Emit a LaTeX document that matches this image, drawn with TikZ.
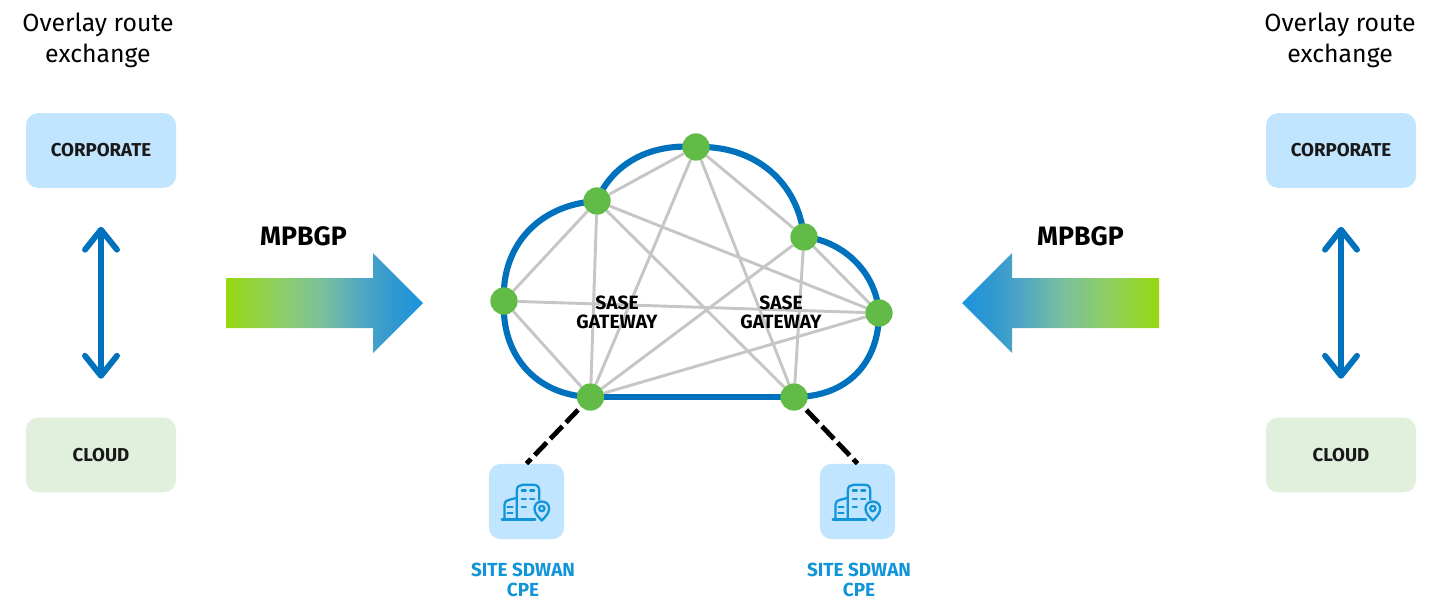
\documentclass[tikz,border=0pt]{standalone}
\usepackage{fontspec}
\setmainfont{Fira Sans}
\usetikzlibrary{arrows.meta,backgrounds}
\definecolor{cloudblue}{HTML}{0071BC}
\definecolor{nodegreen}{HTML}{62BB46}
\definecolor{meshgray}{HTML}{C6C6C6}
\definecolor{paleblue}{HTML}{C2E5FF}
\definecolor{palegreen}{HTML}{E0F0DC}
\definecolor{siteblue}{HTML}{1295D8}
\definecolor{gA}{HTML}{97D810}
\definecolor{gB}{HTML}{90D060}
\definecolor{gC}{HTML}{78BFA0}
\definecolor{gD}{HTML}{4FA5C5}
\definecolor{gE}{HTML}{3098D0}
\definecolor{gF}{HTML}{1B94DC}
\pgfdeclarehorizontalshading{mpright}{100bp}{color(0bp)=(gA);color(25bp)=(gA);color(37.5bp)=(gB);color(50bp)=(gC);color(60bp)=(gD);color(67.5bp)=(gE);color(75bp)=(gF);color(100bp)=(gF)}
\pgfdeclarehorizontalshading{mpleft}{100bp}{color(0bp)=(gF);color(25bp)=(gF);color(32.5bp)=(gE);color(40bp)=(gD);color(50bp)=(gC);color(62.5bp)=(gB);color(75bp)=(gA);color(100bp)=(gA)}
\tikzset{
  x=0.75pt,y=-0.75pt,
  gw/.style={circle,fill=nodegreen,minimum size=20.5pt,inner sep=0pt},
  mesh/.style={draw=meshgray,line width=2.2pt},
  rim/.style={draw=cloudblue,line width=4.6pt},
  tile/.style={rounded corners=9pt,minimum width=112.5pt,minimum height=56pt,inner sep=0pt,
     font=\fontsize{14}{16}\selectfont\bfseries,text=black!90},
  corp/.style={tile,fill=paleblue},
  cld/.style={tile,fill=palegreen},
  sitebox/.style={rounded corners=9pt,fill=paleblue,minimum size=56.5pt,inner sep=0pt},
  sitetxt/.style={align=center,inner sep=0pt,text=siteblue,font=\fontsize{14.2}{15}\selectfont\bfseries},
  headline/.style={align=center,inner sep=0pt,font=\fontsize{18.6}{23}\selectfont},
  bgp/.style={inner sep=0pt,font=\fontsize{20}{22}\selectfont\bfseries},
  sase/.style={align=center,inner sep=0pt,font=\fontsize{14.4}{14.5}\selectfont\bfseries},
  both/.style={draw=cloudblue,line width=4.4pt,
     {Straight Barb[length=15pt,width=24pt,line width=4.4pt,round]}-{Straight Barb[length=15pt,width=24pt,line width=4.4pt,round]},
     shorten <=29pt,shorten >=29pt},
  uplink/.style={draw=black,line width=3.6pt,dash pattern=on 13pt off 4pt,shorten <=3pt},
  siteicon/.pic={
    \begin{scope}[draw=siteblue,line width=1.7pt,line cap=round,line join=round]
      \draw (-24.7,18) -- (8.7,18);
      \draw (-9.7,18) -- (-9.7,-11) .. controls (-9.7,-15) and (-7,-16.7) .. (-4,-16.7)
            -- (7,-16.7) .. controls (10.5,-16.7) and (12.7,-15) .. (12.7,-11) -- (12.7,-1.7);
      \draw (-22,18) -- (-22,3) .. controls (-22,0) and (-20,-1) .. (-18,-1.5) -- (-9.7,-3.7);
      \foreach \yy in {-11,-2.7}{
        \draw (-4.7,\yy) -- (-0.7,\yy);
        \draw (3.7,\yy) -- (7.7,\yy);
      }
      \draw (-4.7,5.7) -- (-0.7,5.7);
      \draw (-19,5.7) -- (-14,5.7);
      \draw (-19,11.7) -- (-14,11.7);
      \draw[fill=paleblue] (15.3,19) .. controls (11,14.5) and (8,11.5) .. (8,7)
            .. controls (8,3) and (11,0) .. (15.3,0)
            .. controls (19.6,0) and (22.6,3) .. (22.6,7)
            .. controls (22.6,11.5) and (19.6,14.5) .. (15.3,19) -- cycle;
      \draw (15.3,7) circle[radius=2.7];
    \end{scope}
  }
}
\begin{document}
\begin{tikzpicture}
\useasboundingbox (0,0) rectangle (1438,611);

% side columns
\node[headline] (hl) at (98,40.5) {Overlay route\\exchange};
\node[headline] (hr) at (1340,40.5) {Overlay route\\exchange};
\node[corp] (corpl) at (101,150.5) {\raisebox{-0.7pt}{CORPORATE}};
\node[cld]  (cldl)  at (101,455)   {\raisebox{-0.7pt}{CLOUD}};
\node[corp] (corpr) at (1341,150.5) {\raisebox{-0.7pt}{CORPORATE}};
\node[cld]  (cldr)  at (1341,455)   {\raisebox{-0.7pt}{CLOUD}};
\draw[both] (corpl.south) -- (cldl.north);
\draw[both] (corpr.south) -- (cldr.north);

% MPBGP arrows
\node[bgp] (bgpl) at (303.5,236) {MPBGP};
\node[bgp] (bgpr) at (1080.5,236) {MPBGP};
\shade[shading=mpright]
  (226,278) -- (373,278) -- (373,253) -- (423,303) -- (373,353) -- (373,328) -- (226,328) -- cycle;
\shade[shading=mpleft]
  (1159,278) -- (1012,278) -- (1012,253) -- (962,303) -- (1012,353) -- (1012,328) -- (1159,328) -- cycle;

% gateways
\node[gw] (top) at (696,147) {};
\node[gw] (a)   at (597,201) {};
\node[gw] (b)   at (804,237) {};
\node[gw] (lft) at (504,301) {};
\node[gw] (rgt) at (879,313) {};
\node[gw] (bl)  at (590.5,397) {};
\node[gw] (br)  at (794,397) {};

\begin{scope}[on background layer]
  \foreach \p/\q in {top/a,top/bl,top/br,top/b,a/lft,a/bl,a/br,a/rgt,b/bl,b/br,b/rgt,lft/bl,lft/rgt,rgt/bl}
    \draw[mesh] (\p) -- (\q);
  \draw[rim] (lft.center) .. controls (501,250) and (535,205) .. (a.center);
  \draw[rim] (a.center) .. controls (610,168) and (645,143) .. (top.center);
  \draw[rim] (top.center) .. controls (755,145) and (798,182) .. (b.center);
  \draw[rim] (b.center) .. controls (840,240) and (876,270) .. (rgt.center);
  \draw[rim] (rgt.center) .. controls (879,362) and (848,397) .. (br.center);
  \draw[rim] (br.center) -- (bl.center);
  \draw[rim] (bl.center) .. controls (533,395) and (501,352) .. (lft.center);
\end{scope}

\node[sase] (s1) at (617,312.5) {SASE\\GATEWAY};
\node[sase] (s2) at (781,312.5) {SASE\\GATEWAY};

% sites
\node[sitebox] (site1) at (526.5,501.5) {};
\node[sitebox] (site2) at (857.5,501.5) {};
\pic at (site1) {siteicon};
\pic at (site2) {siteicon};
\draw[uplink] (bl) -- (site1.north);
\draw[uplink] (br) -- (site2.north);
\node[sitetxt] (t1) at (523,580) {SITE SDWAN\\CPE};
\node[sitetxt] (t2) at (859,580) {SITE SDWAN\\CPE};
\end{tikzpicture}
\end{document}
